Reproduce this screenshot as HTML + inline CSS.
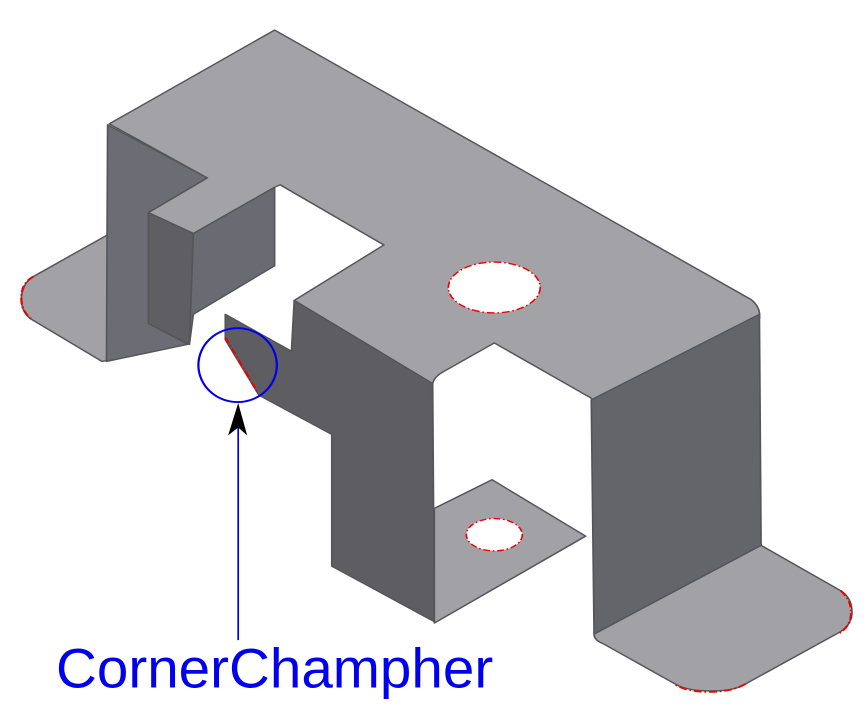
<!DOCTYPE html>
<html><head><meta charset="utf-8"><style>
html,body{margin:0;padding:0;background:#fff;width:867px;height:721px;overflow:hidden}
svg{display:block}
</style></head><body>
<svg width="867" height="721" viewBox="0 0 1547 1560" preserveAspectRatio="none" xmlns="http://www.w3.org/2000/svg">
  <g stroke="#55555a" stroke-width="3" stroke-linejoin="round">
    <path fill="#a2a2a6" d="M60,598 L192,508 L192,780 L182,782 L55,690 Q38,675 38,645 Q40,612 60,598 Z"/>
    <path fill="#6c6c74" d="M192,270 L370,385 L265,460 L265,700 L335,745 L190,782 Z"/>
    <path fill="#5f5f63" d="M265,460 L345,505 L338,745 L265,700 Z"/>
    <path fill="#6a6a72" d="M345,505 L490,405 L490,575 L345,680 L338,745 Z"/>
    <path fill="#a3a3a7" d="M195,268 L490,65 L1340,648 Q1358,665 1355,690 L1060,870 Q1055,860 1050,858 L882,742 L790,805 Q775,815 772,830 L525,650 L685,530 L500,400 L490,405 L345,505 L265,460 L370,385 Z"/>
    <path fill="#5e5e62" d="M525,650 L772,830 L775,1345 L592,1225 L592,940 L462,855 L402,735 L402,680 L520,760 Z"/>
    <path fill="#a2a2a6" d="M775,1100 L878,1038 L1045,1160 L775,1348 Z"/>
    <path fill="#64646b" d="M1055,865 L1355,680 L1358,1180 L1060,1372 Z"/>
    <path fill="#a2a2a6" d="M1060,1372 L1358,1180 L1500,1278 Q1522,1295 1520,1330 Q1518,1355 1495,1370 L1330,1480 Q1310,1495 1270,1495 Q1225,1495 1205,1480 L1075,1392 Q1060,1385 1060,1372 Z"/>
    <ellipse cx="882" cy="622" rx="82" ry="55" fill="#fff" stroke="#e00" stroke-dasharray="14 5 3 5"/>
    <ellipse cx="882" cy="1157" rx="50" ry="35" fill="#fff" stroke="#e00" stroke-dasharray="12 5 3 5"/>
  </g>
  <g fill="none" stroke="#e00" stroke-width="4" stroke-dasharray="14 5 3 5">
    <path d="M402,730 L460,850"/>
    <path d="M60,598 Q38,612 38,645 Q38,675 58,692"/>
    <path d="M1500,1278 Q1522,1300 1518,1335 Q1515,1358 1495,1372"/>
    <path d="M1330,1480 Q1305,1497 1265,1497 Q1225,1497 1203,1480"/>
  </g>
  <g>
    <ellipse cx="424" cy="790" rx="70" ry="80" fill="none" stroke="#0000ee" stroke-width="4"/>
    <line x1="425" y1="1385" x2="425" y2="900" stroke="#0000ee" stroke-width="3"/>
    <path d="M407,942 L425,872 L441,942 L425,925 Z" fill="#000"/>
    <text x="100" y="1487" font-family="Liberation Sans, sans-serif" font-size="120" fill="#0000ee" textLength="780" lengthAdjust="spacingAndGlyphs">CornerChampher</text>
  </g>
</svg>
</body></html>
